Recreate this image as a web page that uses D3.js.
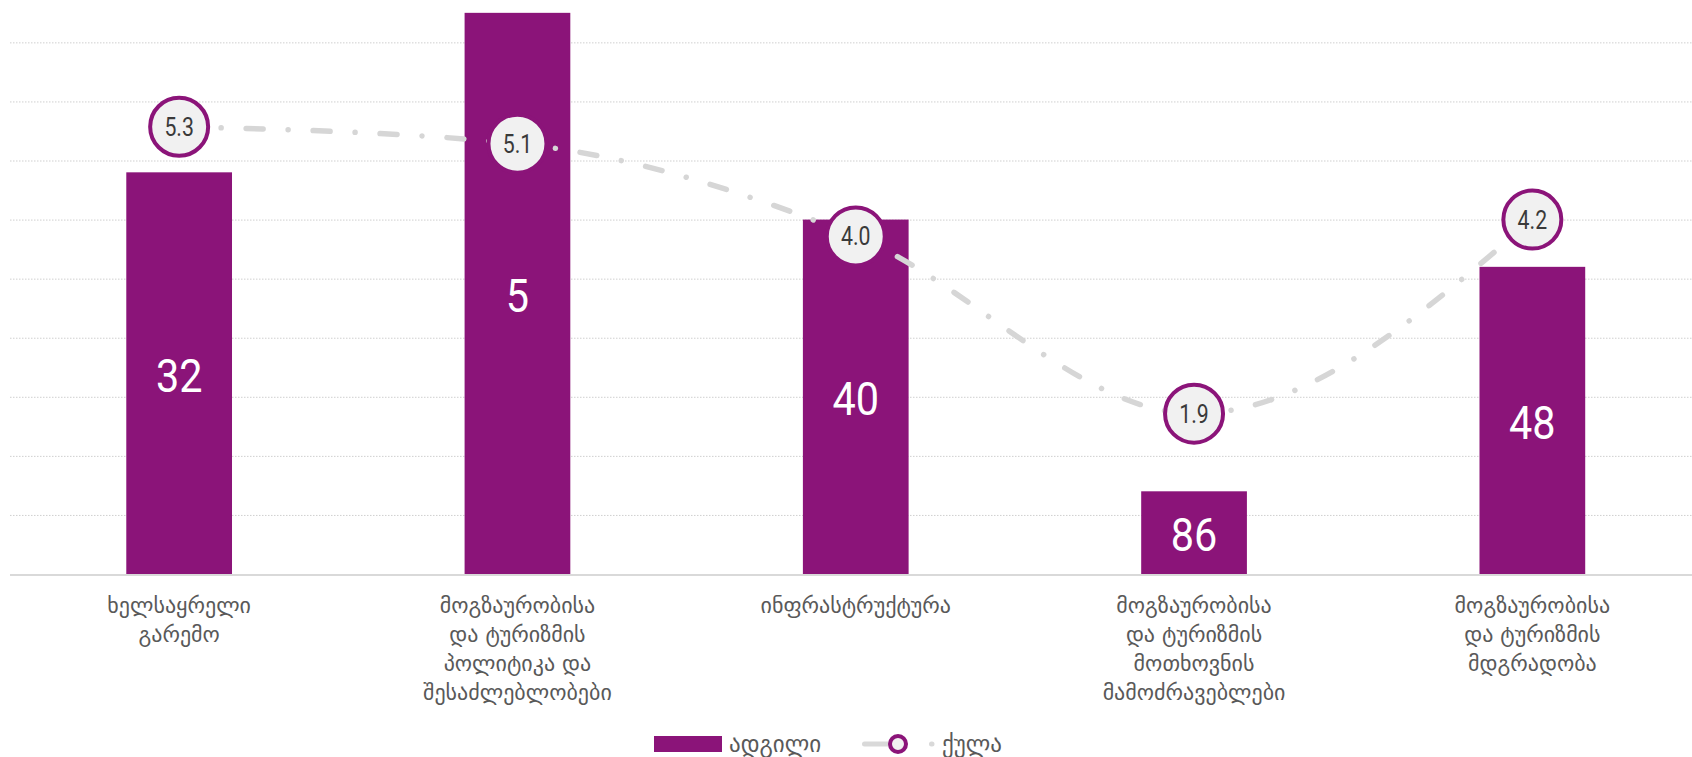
<!DOCTYPE html>
<html>
<head>
<meta charset="utf-8">
<script src="https://cdn.jsdelivr.net/npm/d3@7"></script>
<style>
  body { margin: 0; background: #fff; }
  svg { display: block; }
</style>
</head>
<body>
<div id="chart"></div>
<script>
// categories (tick labels, already broken into lines)
let categoryLines = [
    ["ხელსაყრელი", "გარემო"],
    ["მოგზაურობისა", "და ტურიზმის", "პოლიტიკა და", "შესაძლებლობები"],
    ["ინფრასტრუქტურა"],
    ["მოგზაურობისა", "და ტურიზმის", "მოთხოვნის", "მამოძრავებლები"],
    ["მოგზაურობისა", "და ტურიზმის", "მდგრადობა"]
];
// ადგილი (rank) - bars
let ranks = [32, 5, 40, 86, 48];
// ქულა (score) - line
let scores = [5.3, 5.1, 4.0, 1.9, 4.2];
let gridRanks = [10, 20, 30, 40, 50, 60, 70, 80, 90];
let legendNames = ["ადგილი", "ქულა"];

let W = 1692, H = 757;
let purple = "#8b1479";
let baseY = 574;

let svg = d3.select('#chart')
    .append('svg')
    .attr('width', W)
    .attr('height', H);

let x = d3.scaleBand()
    .domain(d3.range(ranks.length))
    .range([10, 1701.5])
    .paddingInner(0.6875)
    .paddingOuter(0.34375);

// rank axis is reversed: small rank = tall bar
let yBar = d3.scaleLinear().domain([100, 0]).range([baseY, -16.7]);
let yLine = d3.scaleLinear().domain([0, 7]).range([baseY, -16.7]);

// dotted grid
let grid = svg.append('g')
    .attr('transform', 'translate(10,0)')
    .call(d3.axisLeft(yBar).tickValues(gridRanks).tickSize(-(W - 10)).tickFormat(''));
grid.select('.domain').remove();
grid.selectAll('line')
    .attr('stroke', '#cfcfcf')
    .attr('stroke-width', 1)
    .attr('stroke-dasharray', '1.5,1.5');

// bars
svg.selectAll('rect.bar')
    .data(ranks)
    .enter()
    .append('rect')
    .attr('class', 'bar')
    .attr('x', function (d, i) { return x(i); })
    .attr('y', function (d) { return yBar(d); })
    .attr('width', x.bandwidth())
    .attr('height', function (d) { return yBar(100) - yBar(d); })
    .attr('fill', purple);

// baseline
svg.append('line')
    .attr('x1', 10).attr('x2', W)
    .attr('y1', yBar(100) + 1).attr('y2', yBar(100) + 1)
    .attr('stroke', '#d9d9d9')
    .attr('stroke-width', 2);

// bar value labels
svg.selectAll('text.barlabel')
    .data(ranks)
    .enter()
    .append('text')
    .attr('class', 'barlabel')
    .attr('transform', function (d, i) {
        let cx = x(i) + x.bandwidth() / 2;
        let cy = (yBar(d) + yBar(100)) / 2 + 2;
        return 'translate(' + cx + ',' + (cy + 16.5) + ') scale(0.9,1)';
    })
    .attr('text-anchor', 'middle')
    .attr('fill', '#fff')
    .style('font-family', 'Roboto, sans-serif')
    .style('font-size', '46px')
    .text(function (d) { return d; });

// score line
let line = d3.line()
    .x(function (d, i) { return x(i) + x.bandwidth() / 2; })
    .y(function (d) { return yLine(d); })
    .curve(d3.curveMonotoneX);

svg.append('path')
    .datum(scores)
    .attr('d', line)
    .attr('fill', 'none')
    .attr('stroke', '#d6d6d6')
    .attr('stroke-width', 5.5)
    .attr('stroke-linecap', 'round')
    .attr('stroke-dasharray', '17,25,0.01,25');

// score markers
let pts = svg.selectAll('g.pt')
    .data(scores)
    .enter()
    .append('g')
    .attr('class', 'pt')
    .attr('transform', function (d, i) {
        return 'translate(' + (x(i) + x.bandwidth() / 2) + ',' + yLine(d) + ')';
    });

pts.append('circle')
    .attr('r', 29)
    .attr('fill', '#f1f1f1')
    .attr('stroke', purple)
    .attr('stroke-width', 4);

pts.append('text')
    .attr('transform', 'translate(0,9) scale(0.85,1)')
    .attr('text-anchor', 'middle')
    .attr('fill', '#3a3a3a')
    .style('font-family', 'Roboto, sans-serif')
    .style('font-size', '25px')
    .text(function (d) { return d.toFixed(1); });

// x-axis labels
let labels = svg.selectAll('text.cat')
    .data(categoryLines)
    .enter()
    .append('text')
    .attr('class', 'cat')
    .attr('text-anchor', 'middle')
    .attr('fill', '#595959')
    .style('font-family', '"DejaVu Sans", sans-serif')
    .style('font-size', '22px');

labels.selectAll('tspan')
    .data(function (d, i) { return d.map(function (t) { return { t: t, i: i }; }); })
    .enter()
    .append('tspan')
    .attr('x', function (d) { return x(d.i) + x.bandwidth() / 2; })
    .attr('y', function (d, j) { return 613 + j * 29; })
    .text(function (d) { return d.t; });

// legend
let lg = svg.append('g');
lg.append('rect')
    .attr('x', 654).attr('y', 736)
    .attr('width', 68).attr('height', 16)
    .attr('fill', purple);
lg.append('text')
    .attr('x', 729).attr('y', 752)
    .attr('fill', '#595959')
    .style('font-family', '"DejaVu Sans", sans-serif')
    .style('font-size', '23px')
    .text(legendNames[0]);
lg.append('path')
    .attr('d', 'M864.5,744L936,744')
    .attr('stroke', '#d9d9d9')
    .attr('stroke-width', 5)
    .attr('stroke-linecap', 'round')
    .attr('stroke-dasharray', '38,29,0.5,100');
lg.append('circle')
    .attr('cx', 898).attr('cy', 744).attr('r', 8)
    .attr('fill', '#f1f1f1')
    .attr('stroke', purple)
    .attr('stroke-width', 4);
lg.append('text')
    .attr('x', 942).attr('y', 752)
    .attr('fill', '#595959')
    .style('font-family', '"DejaVu Sans", sans-serif')
    .style('font-size', '23px')
    .text(legendNames[1]);
</script>
</body>
</html>
